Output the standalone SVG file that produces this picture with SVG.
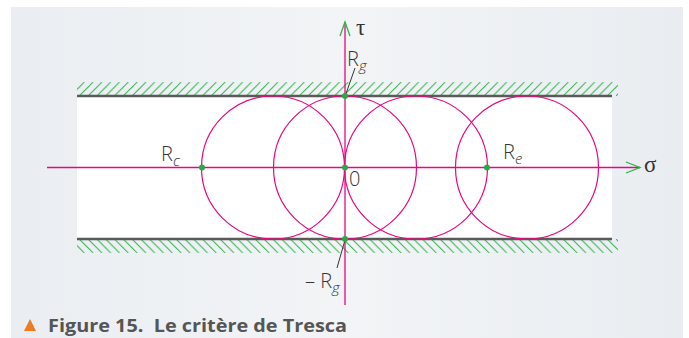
<svg xmlns="http://www.w3.org/2000/svg" width="689" height="338" viewBox="0 0 689 338">
<style>
.c{fill:none;stroke:#e5097f;stroke-width:1.2}
.ax{stroke:#e5097f;stroke-width:1.3;fill:none}
.arr{stroke:#2fb34a;stroke-width:1.3;fill:none}
.wall{stroke:#5a5a5a;stroke-width:2.5}
.dot{fill:#2aa84a}
.lbl{font-family:"Open Sans","Noto Sans",sans-serif;font-size:20px;fill:#333;font-weight:300}
.sub{font-style:italic;font-size:15px}
.gr{font-family:"Liberation Serif","DejaVu Serif",serif;font-size:23px;fill:#333}
.lead{stroke:#333;stroke-width:1}
</style>
<defs>
<linearGradient id="bg" x1="0" y1="0" x2="1" y2="0">
<stop offset="0" stop-color="#eaeef2"/>
<stop offset="0.5" stop-color="#f2f4f6"/>
<stop offset="1" stop-color="#e9edf1"/>
</linearGradient>
<pattern id="hu" patternUnits="userSpaceOnUse" x="0" y="82" width="8.8" height="14">
<path d="M0,14L14,0M-8.8,14L5.2,0" stroke="#33b54c" stroke-width="1"/>
</pattern>
<pattern id="hd" patternUnits="userSpaceOnUse" x="0" y="239" width="8.8" height="14">
<path d="M0,0L14,14M-8.8,0L5.2,14" stroke="#33b54c" stroke-width="1"/>
</pattern>
</defs>
<rect x="0" y="0" width="689" height="338" fill="#fff"/>
<rect x="11" y="7" width="672" height="331" fill="url(#bg)"/>
<rect x="77" y="96" width="535" height="143" fill="#fff"/>
<rect x="77" y="82" width="541" height="14" fill="url(#hu)"/>
<rect x="77" y="239" width="541" height="14" fill="url(#hd)"/>
<line class="wall" x1="77" y1="96" x2="612" y2="96"/>
<line class="wall" x1="77" y1="239" x2="612" y2="239"/>
<g id="circles">
<circle class="c" cx="273" cy="167.5" r="71.5"/>
<circle class="c" cx="345" cy="167.5" r="71.5"/>
<circle class="c" cx="416" cy="167.5" r="71.5"/>
<circle class="c" cx="527" cy="167.5" r="71.5"/>
</g>
<g id="axes">
<line class="ax" x1="47" y1="167.5" x2="640" y2="167.5"/>
<line class="ax" x1="345" y1="22" x2="345" y2="305"/>
<path class="arr" d="M340,36L345,22L350,36"/>
<path class="arr" d="M626,162L640,167.5L626,173"/>
<line class="lead" x1="345.5" y1="95" x2="355" y2="68"/>
<line class="lead" x1="345" y1="240" x2="337" y2="268"/>
</g>
<g id="points">
<circle class="dot" cx="202" cy="167.5" r="3"/>
<circle class="dot" cx="345" cy="167.5" r="3"/>
<circle class="dot" cx="487" cy="167.5" r="3"/>
<circle class="dot" cx="345" cy="96" r="3"/>
<circle class="dot" cx="345" cy="239" r="3"/>
</g>
<g id="labels">
<text class="gr" x="356" y="35">τ</text>
<text class="gr" x="644" y="172">σ</text>
<text class="lbl" x="347" y="66">R<tspan class="sub" dy="5">g</tspan></text>
<text class="lbl" x="161" y="161">R<tspan class="sub" dy="5">c</tspan></text>
<text class="lbl" x="503" y="159">R<tspan class="sub" dy="5">e</tspan></text>
<text class="lbl" x="349" y="186">0</text>
<text class="lbl" x="305" y="288">– R<tspan class="sub" dy="5">g</tspan></text>
</g>
<g id="caption">
<path d="M24,331L30,319L36,331Z" fill="#f07a22"/>
<text x="48" y="332" font-family="'Open Sans','Noto Sans',sans-serif" font-weight="700" font-size="18.5" fill="#555" textLength="299" lengthAdjust="spacingAndGlyphs" xml:space="preserve">Figure 15.  Le critère de Tresca</text>
</g>
</svg>
